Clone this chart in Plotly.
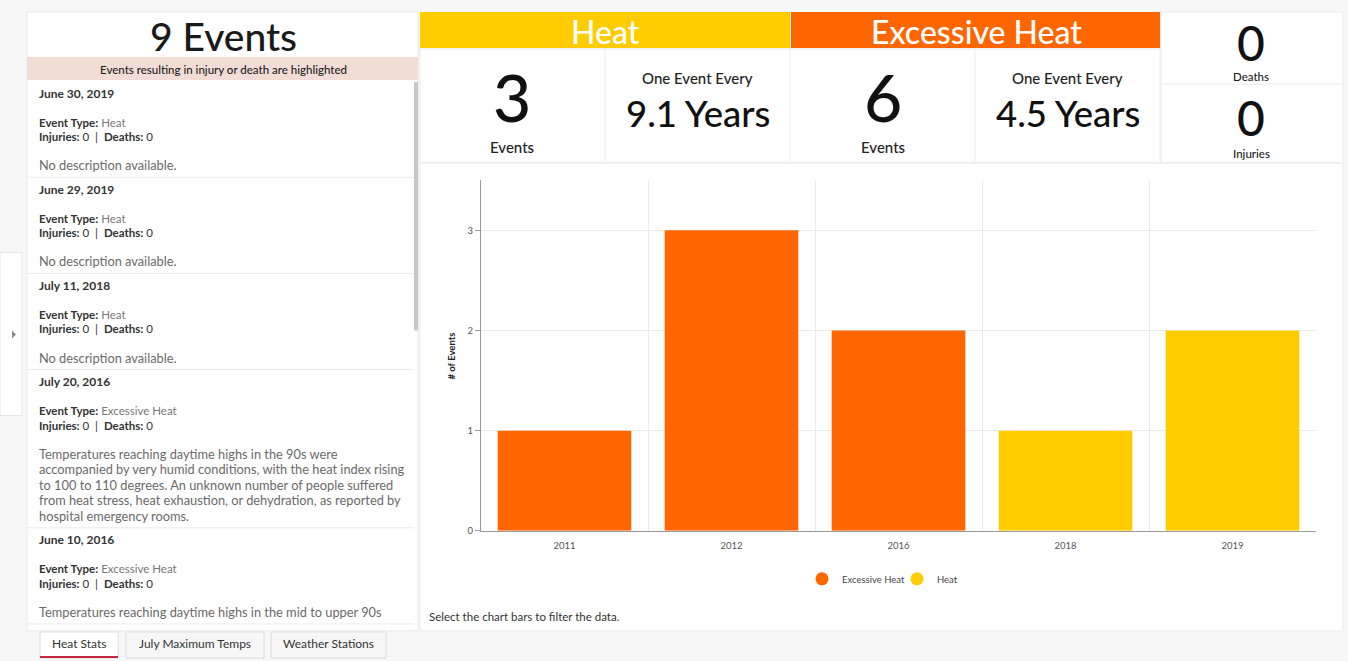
import plotly.graph_objects as go

# ---------------- data ----------------
years = ["2011", "2012", "2016", "2018", "2019"]
excessive_heat_counts = [1, 3, 2, None, None]
heat_counts = [None, None, None, 1, 2]
series_names = ["Excessive Heat", "Heat"]
series_colors = ["#FF6600", "#FFCC00"]

total_events = 9
heat_events = 3
excessive_events = 6
heat_interval = "9.1"
excessive_interval = "4.5"
deaths = 0
injuries = 0

event_dates = ["June 30, 2019", "June 29, 2019", "July 11, 2018", "July 20, 2016", "June 10, 2016"]
event_types = ["Heat", "Heat", "Heat", "Excessive Heat", "Excessive Heat"]
event_injuries = [0, 0, 0, 0, 0]
event_deaths = [0, 0, 0, 0, 0]
event_descriptions = [
    ["No description available."],
    ["No description available."],
    ["No description available."],
    ["Temperatures reaching daytime highs in the 90s were",
     "accompanied by very humid conditions, with the heat index rising",
     "to 100 to 110 degrees. An unknown number of people suffered",
     "from heat stress, heat exhaustion, or dehydration, as reported by",
     "hospital emergency rooms."],
    ["Temperatures reaching daytime highs in the mid to upper 90s"],
]
tabs = ["Heat Stats", "July Maximum Temps", "Weather Stations"]

# ---------------- figure ----------------
W, H = 1348, 661          # design coordinates
FIG_H = 667               # page height actually captured
FONT = "Lato"
fig = go.Figure()

for name, vals, col in zip(series_names, [excessive_heat_counts, heat_counts], series_colors):
    fig.add_trace(go.Bar(x=years, y=vals, name=name, marker=dict(color=col, line=dict(width=0)),
                         showlegend=False))
    fig.add_trace(go.Scatter(x=[None], y=[None], mode="markers", name=name,
                             marker=dict(symbol="circle", size=13, color=col)))

shapes = []
def R(x0, y0, x1, y1, fill, line=None, lw=1, layer="below"):
    shapes.append(dict(type="rect", xref="paper", yref="paper",
                       x0=x0 / W, x1=x1 / W, y0=1 - y1 / H, y1=1 - y0 / H,
                       fillcolor=fill, line=dict(color=line or fill, width=lw if line else 0),
                       layer=layer))
def L(x0, y0, x1, y1, color="#e6e6e6", lw=1, layer="below"):
    shapes.append(dict(type="line", xref="paper", yref="paper",
                       x0=x0 / W, x1=x1 / W, y0=1 - y0 / H, y1=1 - y1 / H,
                       line=dict(color=color, width=lw), layer=layer))
def T(text, x, y, size, color="#222", xanchor="center", family=FONT, angle=0, weight=None):
    f = dict(size=size, color=color, family=family)
    if weight:
        f["weight"] = weight
    fig.add_annotation(x=x / W, y=1 - y / H, xref="paper", yref="paper", text=text,
                       showarrow=False, textangle=angle, font=f,
                       xanchor=xanchor, yanchor="middle")

# left panel
R(27, 12, 418, 630, "#ffffff", "#e8e8e8")
T(f"{total_events} Events", 223, 36, 39, "#1a1a1a", weight=500)
R(27, 57, 418, 80, "#f2ddd6")
T("Events resulting in injury or death are highlighted", 223, 69, 11.5, "#222", weight=500)
R(414, 82, 418, 330, "#c8c8c8")

y = 93
for d, t, inj, dth, desc in zip(event_dates, event_types, event_injuries, event_deaths, event_descriptions):
    T(f"<b>{d}</b>", 37, y, 12, "#333", "left")
    T(f"<b>Event Type:</b> <span style='color:#777'>{t}</span>", 37, y + 29, 11.5, "#333", "left")
    T(f"<b>Injuries:</b> {inj}  |  <b>Deaths:</b> {dth}", 37, y + 43.5, 11.5, "#333", "left")
    dy = y + 72
    for line in desc:
        T(line, 37, dy, 12.8, "#6a6a6a", "left")
        dy += 15.5
    L(27, dy - 3.5, 414, dy - 3.5, "#ececec")
    y = dy + 8.5

# left collapse tab
R(0, 252, 22, 415, "#ffffff", "#e3e3e3")
shapes.append(dict(type="path", xref="paper", yref="paper",
                   path=f"M {12/W},{1-330/H} L {16/W},{1-334/H} L {12/W},{1-338/H} Z",
                   fillcolor="#888", line=dict(width=0), layer="above"))

# bottom tabs
tab_x = [(40, 118), (126, 264), (271, 386)]
for (a, b), name in zip(tab_x, tabs):
    R(a, 631, b, 657, "#ffffff" if name == "Heat Stats" else "#f7f7f7", "#dcdcdc")
    T(name, (a + b) / 2, 643, 12, "#333")
L(40, 656, 118, 656, "#c4263c", 2, "above")

# headers
R(420, 12, 790, 48, "#FFCC00")
R(791, 12, 1160, 48, "#FF6600")
T("Heat", 605, 31, 32, "#ffffff", weight=500)
T("Excessive Heat", 976, 31, 32, "#ffffff", weight=500)

# stats row
R(420, 49, 1160, 162, "#ffffff", "#ececec")
R(1161, 12, 1343, 162, "#ffffff", "#ececec")
L(605, 49, 605, 162, "#ececec")
L(790, 49, 790, 162, "#ececec")
L(975, 49, 975, 162, "#ececec")
L(1161, 84, 1343, 84, "#ececec")
T(str(heat_events), 512, 96, 66, "#111", weight=500)
T("Events", 512, 147, 15, "#222", weight=500)
T("One Event Every", 697, 78, 15, "#222", weight=500)
T(f"{heat_interval} Years", 698, 113, 36.5, "#111", weight=500)
T(str(excessive_events), 883, 96, 66, "#111", weight=500)
T("Events", 883, 147, 15, "#222", weight=500)
T("One Event Every", 1067, 78, 15, "#222", weight=500)
T(f"{excessive_interval} Years", 1068, 113, 36.5, "#111", weight=500)
T(str(deaths), 1251, 42, 48, "#111", weight=500)
T("Deaths", 1251, 76, 11.5, "#222", weight=500)
T(str(injuries), 1251, 117, 48, "#111", weight=500)
T("Injuries", 1251, 153, 11.5, "#222", weight=500)

# chart panel
R(420, 163, 1343, 630, "#ffffff", "#ececec")
T("<b># of Events</b>", 452, 355, 9.5, "#222", angle=-90)
T("Select the chart bars to filter the data.", 427, 616, 11.5, "#333", "left")

fig.update_layout(
    width=W, height=FIG_H, margin=dict(l=0, r=0, t=0, b=0), autosize=False,
    paper_bgcolor="#f7f7f7", plot_bgcolor="rgba(0,0,0,0)",
    barmode="relative", bargap=0.2,
    font=dict(family=FONT, color="#555"),
    shapes=shapes,
    xaxis=dict(domain=[481 / W, 1316 / W], type="category", tickson="boundaries",
               range=[-0.5, 4.5], showgrid=True, gridcolor="#ebebeb", gridwidth=1,
               showline=True, linecolor="#9a9a9a", linewidth=1, ticks="", zeroline=False,
               ticklabelstandoff=6,
               tickfont=dict(size=9.5, color="#555"), fixedrange=True),
    yaxis=dict(domain=[1 - 530 / H, 1 - 180 / H], range=[0, 3.5], tickvals=[0, 1, 2, 3],
               showgrid=True, gridcolor="#ebebeb", showline=True, linecolor="#9a9a9a",
               linewidth=1, ticks="outside", ticklen=5, tickcolor="#9a9a9a", zeroline=False,
               tickfont=dict(size=9.5, color="#555"), fixedrange=True),
    legend=dict(orientation="h", x=897 / W, y=1 - 578 / H, xanchor="center", yanchor="middle",
                font=dict(size=9.5, color="#444"), bgcolor="rgba(0,0,0,0)", itemwidth=30,
                entrywidth=50),
    showlegend=True,
)

post = ("document.documentElement.style.margin='0';document.body.style.margin='0';"
        "document.documentElement.style.background='#f7f7f7';"
        "document.documentElement.style.overflow='hidden';document.body.style.overflow='hidden';")
fig.write_html("out.html", post_script=post, config={"displayModeBar": False, "responsive": False})
